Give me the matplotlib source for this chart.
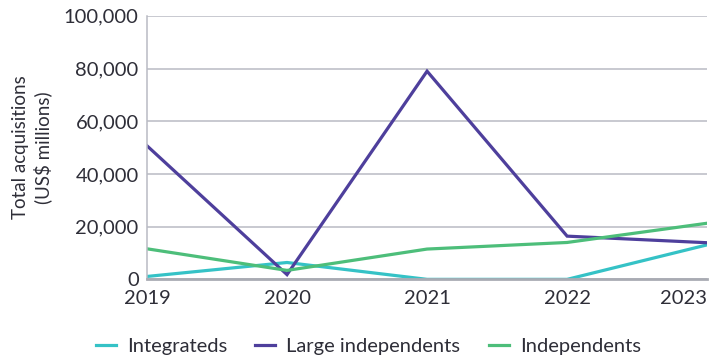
import matplotlib
matplotlib.use("Agg")
import matplotlib.pyplot as plt
from matplotlib.ticker import FuncFormatter

years = [2019, 2020, 2021, 2022, 2023]
integrateds = [1100, 6400, 0, 0, 13100]
large_independents = [50700, 1800, 79000, 16400, 13900]
independents = [11600, 3400, 11500, 14000, 21300]

series_names = ["Integrateds", "Large independents", "Independents"]
colors = ["#35C2C6", "#4E3F9C", "#4DBE7A"]
text_color = "#2E2E38"

plt.rcParams["font.family"] = ["Lato", "DejaVu Sans"]

fig = plt.figure(figsize=(7.1, 3.6), dpi=100)
ax = fig.add_axes([0.207, 0.224, 0.789, 0.732])

for vals, name, c in zip([integrateds, large_independents, independents], series_names, colors):
    ax.plot(years, vals, color=c, lw=2.3, label=name, solid_joinstyle="miter")

ax.set_xlim(2019, 2023)
ax.set_ylim(0, 100000)
ax.set_yticks(range(0, 100001, 20000))
ax.set_xticks(years)
ax.yaxis.set_major_formatter(FuncFormatter(lambda v, p: f"{int(v):,}"))
ax.grid(axis="y", color="#B9BBC3", lw=1.1)
ax.set_axisbelow(True)
for s in ["top", "right"]:
    ax.spines[s].set_visible(False)
ax.spines["left"].set_color("#B9BBC3")
ax.spines["left"].set_linewidth(1.1)
ax.spines["bottom"].set_color("#A9ABB3")
ax.spines["bottom"].set_linewidth(2)
ax.tick_params(length=0, labelsize=14.5, colors=text_color, pad=6)
ax.tick_params(axis="x", pad=8)
ax.get_xticklabels()[-1].set_ha("right")

ax.set_ylabel("Total acquisitions\n(US$ millions)", fontsize=13.5, color=text_color,
              labelpad=8, linespacing=1.3)

ax.legend(loc="upper center", bbox_to_anchor=(0.395, -0.155), ncol=3, frameon=False,
          fontsize=14.5, labelcolor=text_color, handlelength=1.0, handletextpad=0.55,
          columnspacing=1.4)

fig.savefig("out.png", dpi=100)
